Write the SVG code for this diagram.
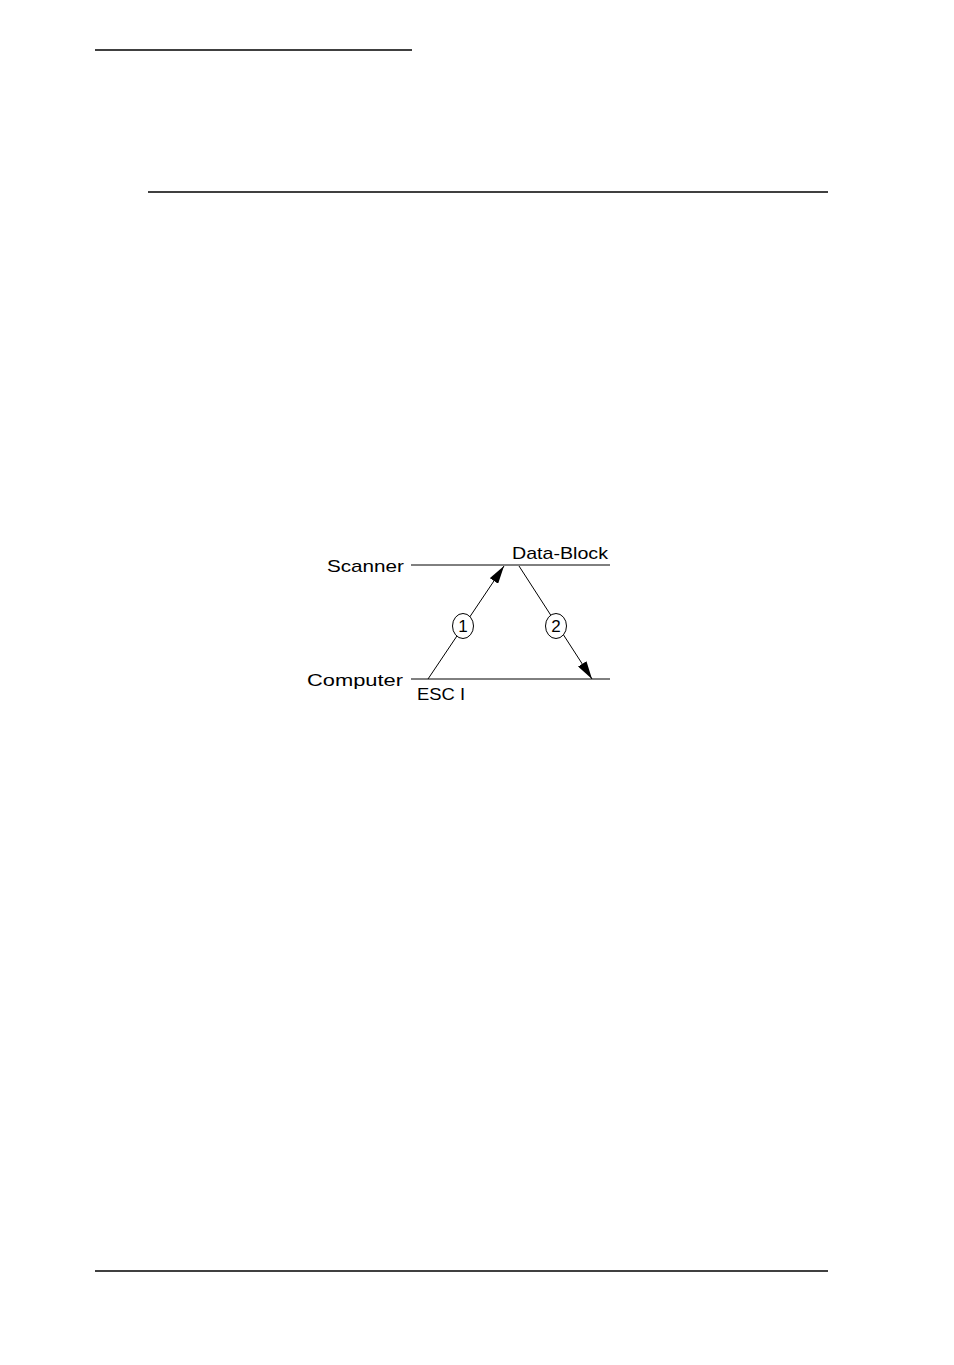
<svg xmlns="http://www.w3.org/2000/svg" width="954" height="1365" viewBox="0 0 954 1365">
<defs>
<marker id="ah" viewBox="0 0 18 10" refX="18" refY="5" markerWidth="18" markerHeight="10" markerUnits="userSpaceOnUse" orient="auto">
<path d="M0,0 L18,5 L0,10 z" fill="#000"/>
</marker>
<style>
.rule{stroke:#000;stroke-width:1.3;fill:none}
.ln{stroke:#000;stroke-width:1;fill:none}
.lbl{font-family:"Liberation Sans",Arial,sans-serif;font-size:17px;fill:#000}
</style>
</defs>
<rect width="954" height="1365" fill="#fff"/>
<g id="page-rules">
<line class="rule" x1="95" y1="50" x2="412" y2="50"/>
<line class="rule" x1="148" y1="192" x2="828" y2="192"/>
<line class="rule" x1="95" y1="1271" x2="828" y2="1271"/>
</g>
<g id="scanner">
<line class="ln" x1="411" y1="565" x2="610" y2="565"/>
<text class="lbl" x="327" y="572" textLength="77" lengthAdjust="spacingAndGlyphs">Scanner</text>
<text class="lbl" x="512" y="559" textLength="96" lengthAdjust="spacingAndGlyphs">Data-Block</text>
</g>
<g id="computer">
<line class="ln" x1="411" y1="679" x2="610" y2="679"/>
<text class="lbl" x="307" y="686" textLength="96" lengthAdjust="spacingAndGlyphs">Computer</text>
<text class="lbl" x="417" y="700" textLength="48" lengthAdjust="spacingAndGlyphs">ESC I</text>
</g>
<g id="connectors">
<line class="ln" x1="428" y1="679" x2="504" y2="566" marker-end="url(#ah)"/>
<line class="ln" x1="519" y1="566" x2="592" y2="679" marker-end="url(#ah)"/>
<ellipse cx="463" cy="626" rx="10.5" ry="12.5" fill="#fff" stroke="#000" stroke-width="1"/>
<text class="lbl" x="463" y="632" text-anchor="middle" font-size="17">1</text>
<ellipse cx="556" cy="626" rx="10.5" ry="12.5" fill="#fff" stroke="#000" stroke-width="1"/>
<text class="lbl" x="556" y="632" text-anchor="middle" font-size="17">2</text>
</g>
</svg>
